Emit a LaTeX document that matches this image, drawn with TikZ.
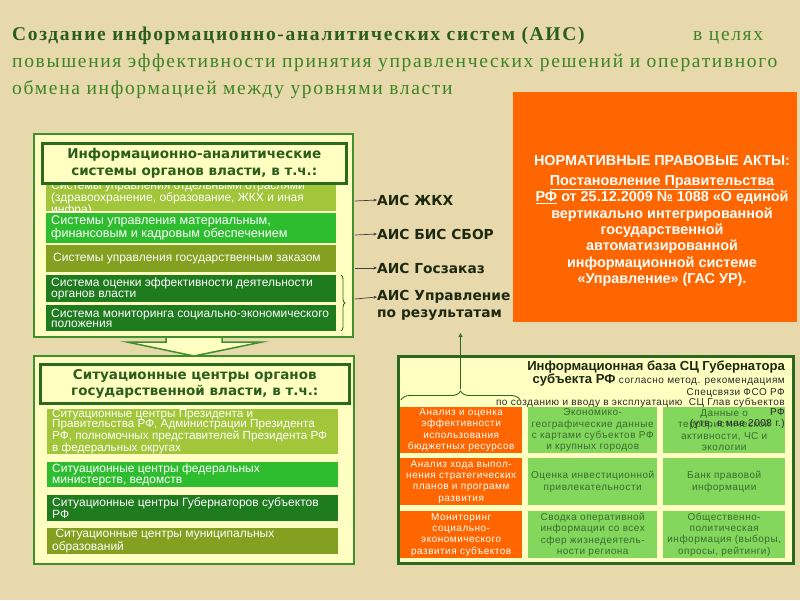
\documentclass[tikz,border=0pt]{standalone}
\usepackage{fontspec}
\setmainfont{Liberation Sans}
\newfontfamily\titleserif[LetterSpace=8.5]{Liberation Serif}
\newfontfamily\spsans[LetterSpace=5]{Liberation Sans}
\newfontfamily\dvsans{DejaVu Sans}
\usetikzlibrary{decorations.pathreplacing,arrows.meta}
\definecolor{bgc}{HTML}{E8D9AC}
\definecolor{tgreen}{HTML}{2B5E1A}
\definecolor{tgreen2}{HTML}{3A8426}
\definecolor{pfill}{HTML}{FFFFC2}
\definecolor{pborder}{HTML}{3F8F2C}
\definecolor{tborder}{HTML}{2B6A1E}
\definecolor{yg}{HTML}{A2C63A}
\definecolor{bright}{HTML}{2EBD2E}
\definecolor{olive}{HTML}{84A020}
\definecolor{dg}{HTML}{1E7B1E}
\definecolor{orng}{HTML}{FF6600}
\definecolor{cellg}{HTML}{83D75C}
\definecolor{celltxt}{HTML}{3A6B30}
\definecolor{labtxt}{HTML}{1C2810}
\definecolor{smalltxt}{HTML}{2A2A2A}
\begin{document}
\begin{tikzpicture}[x=1pt,y=-1pt,
 panel/.style={draw=pborder, line width=2pt, fill=pfill, anchor=north west, inner sep=0pt},
 tbox/.style={draw=tborder, line width=2.5pt, fill=pfill, anchor=north west, inner sep=0pt, align=center, text=tgreen, font=\dvsans\bfseries\fontsize{13.5}{16.5}\selectfont},
 barbox/.style={anchor=north west, inner sep=0pt},
 bartext/.style={anchor=west, inner xsep=5pt, inner ysep=0pt, text=white, align=left, font=\fontsize{12}{10.6}\selectfont},
 lab/.style={anchor=west, inner sep=0pt, text=labtxt, font=\dvsans\bfseries\fontsize{13.8}{16}\selectfont},
 smallarr/.style={draw=black!75, line width=0.7pt, -{Stealth[length=3.5pt,width=3pt]}},
 cellbox/.style={anchor=north west, inner sep=1pt, align=center, font=\spsans\fontsize{10}{11.3}\selectfont},
 ocell/.style={cellbox, fill=orng, text=white},
 gcell/.style={cellbox, fill=cellg, text=celltxt},
 small/.style={inner sep=0pt, text=smalltxt, font=\spsans\fontsize{10}{12}\selectfont},
 brc/.style={draw=tborder, line width=0.9pt},
 ttl/.style={anchor=base west, inner sep=0pt, text=tgreen2, font=\titleserif\fontsize{19.5}{26}\selectfont}
]
\fill[bgc] (0,0) rectangle (800,600);
\useasboundingbox (0,0) rectangle (800,600);

% title
\node[ttl, text=tgreen, font=\titleserif\bfseries\fontsize{19.5}{26}\selectfont] (t1) at (12,40) {Создание информационно-аналитических систем (АИС)};
\node[ttl] (t1b) at (693,40) {в целях};
\node[ttl] (t2) at (12,67) {повышения эффективности принятия управленческих решений и оперативного};
\node[ttl] (t3) at (12,94) {обмена информацией между уровнями власти};

% orange box
\node[fill=orng, anchor=north west, inner sep=0pt, minimum width=284pt, minimum height=230pt] (nra) at (513,92) {};
\node[text=white, align=center, inner sep=0pt, font=\bfseries\fontsize{14.4}{16.4}\selectfont] (nrat) at (662,221) {НОРМАТИВНЫЕ ПРАВОВЫЕ АКТЫ:\\[3.5pt]
\underline{Постановление Правительства}\\
\underline{РФ} от 25.12.2009 № 1088 «О единой\\
вертикально интегрированной\\
государственной\\
автоматизированной\\
информационной системе\\
«Управление» (ГАС УР).};

% big down arrow
\draw[draw=pborder, line width=1.5pt, fill=pfill] (166,326) -- (222,326) -- (222,342) -- (262,342) -- (194,356) -- (127,342) -- (166,342) -- cycle;

% top-left panel
\node[panel, minimum width=319pt, minimum height=203pt] (p1) at (33,133) {};
\node[barbox, fill=yg, minimum width=290pt, minimum height=28pt] (b1) at (46,183) {};
\node[bartext, font=\fontsize{12}{10}\selectfont] (b1t) at ([yshift=-1.5pt]b1.west) {Системы управления отдельными отраслями\\(здравоохранение, образование, ЖКХ и иная\\инфра)};
\node[barbox, fill=bright, minimum width=290pt, minimum height=30pt] (b2) at (46,213) {};
\node[bartext, font=\fontsize{12.6}{11}\selectfont] (b2t) at (b2.west) {Системы управления материальным,\\финансовым и кадровым обеспечением};
\node[barbox, fill=olive, minimum width=290pt, minimum height=27pt] (b3) at (46,245) {};
\node[bartext, inner xsep=7pt] (b3t) at (b3.west) {Системы управления государственным заказом};
\node[barbox, fill=dg, minimum width=290pt, minimum height=27pt] (b4) at (46,275) {};
\node[bartext] (b4t) at (b4.west) {Система оценки эффективности деятельности\\органов власти};
\node[barbox, fill=dg, minimum width=290pt, minimum height=26pt] (b5) at (46,305) {};
\node[bartext] (b5t) at (b5.west) {Система мониторинга социально-экономического\\положения};
\node[tbox, minimum width=304pt, minimum height=40pt] (p1t) at (41,142) {Информационно-аналитические\\системы органов власти, в т.ч.:};
\draw[brc, decorate, decoration={brace, amplitude=4pt}] (341,275) -- (341,331);

% labels
\node[lab] (aj) at (377,200) {АИС ЖКХ};
\node[lab] (ab) at (377,234) {АИС БИС СБОР};
\node[lab] (ag) at (377,268) {АИС Госзаказ};
\node[lab] (au1) at (377,297) {АИС Управление};
\node[lab] (au2) at (377,315) {по результатам};
\coordinate (s1) at (355,201);
\coordinate (s2) at (355,235);
\coordinate (s3) at (355,268);
\coordinate (s4) at (355,299);
\draw[smallarr] (s1) -- (aj.west);
\draw[smallarr] (s2) -- (ab.west);
\draw[smallarr] (s3) -- (ag.west);
\draw[smallarr] (s4) -- (au1.west);

% bottom-left panel
\node[panel, minimum width=320pt, minimum height=208pt] (p2) at (33,355) {};
\node[tbox, minimum width=309pt, minimum height=39pt] (p2t) at (39,363) {Ситуационные центры органов\\государственной власти, в т.ч.:};
\node[barbox, fill=yg, minimum width=291pt, minimum height=45pt] (c1) at (47,409) {};
\node[bartext, font=\fontsize{11.7}{10.6}\selectfont] (c1t) at (c1.west) {Ситуационные центры Президента и\\Правительства РФ, Администрации Президента\\РФ, полномочных представителей Президента РФ\\в федеральных округах};
\node[barbox, fill=bright, minimum width=291pt, minimum height=25pt] (c2) at (47,462) {};
\node[bartext] (c2t) at (c2.west) {Ситуационные центры федеральных\\министерств, ведомств};
\node[barbox, fill=dg, minimum width=291pt, minimum height=26pt] (c3) at (47,495) {};
\node[bartext] (c3t) at (c3.west) {Ситуационные центры Губернаторов субъектов\\РФ};
\node[barbox, fill=olive, minimum width=291pt, minimum height=26pt] (c4) at (47,528) {};
\node[bartext] (c4t) at (c4.west) {\ Ситуационные центры муниципальных\\образований};

% right panel
\node[panel, draw=tborder, line width=2.5pt, minimum width=395pt, minimum height=207pt] (p3) at (397,355) {};
\node[ocell, minimum width=122pt, minimum height=46pt, text width=120pt] (g11) at (400,407) {Анализ и оценка\\эффективности\\использования\\бюджетных ресурсов};
\node[gcell, minimum width=129pt, minimum height=46pt, text width=127pt] (g12) at (528,407) {Экономико-\\географические данные\\с картами субъектов РФ\\и крупных городов};
\node[gcell, minimum width=122pt, minimum height=46pt, text width=120pt] (g13) at (663,407) {Данные о\\террористической\\активности, ЧС и\\экологии};
\node[ocell, minimum width=122pt, minimum height=47pt, text width=120pt] (g21) at (400,458) {Анализ хода выпол-\\нения стратегических\\планов и программ\\развития};
\node[gcell, minimum width=129pt, minimum height=47pt, text width=127pt] (g22) at (528,458) {Оценка инвестиционной\\привлекательности};
\node[gcell, minimum width=122pt, minimum height=47pt, text width=120pt] (g23) at (663,458) {Банк правовой\\информации};
\node[ocell, minimum width=122pt, minimum height=47pt, text width=120pt] (g31) at (400,511) {Мониторинг\\социально-\\экономического\\развития субъектов};
\node[gcell, minimum width=129pt, minimum height=47pt, text width=127pt] (g32) at (528,511) {Сводка оперативной\\информации со всех\\сфер жизнедеятель-\\ности региона};
\node[gcell, minimum width=122pt, minimum height=47pt, text width=120pt] (g33) at (663,511) {Общественно-\\политическая\\информация (выборы,\\опросы, рейтинги)};

% info base title
\node[anchor=base east, inner sep=0pt, text=labtxt, font=\bfseries\fontsize{13.1}{16}\selectfont] (ib1) at (785,370) {Информационная база СЦ Губернатора};
\node[anchor=base east, small] (ib2) at (785,383) {{\rmfamily\bfseries\fontsize{13.1}{16}\selectfont\color{labtxt}субъекта РФ} согласно метод. рекомендациям};
\node[anchor=base east, small] (ib3) at (785,395) {Спецсвязи ФСО РФ};
\node[anchor=base east, small] (ib4) at (785,405) {по созданию и вводу в эксплуатацию \ СЦ Глав субъектов};
\node[anchor=base east, small] (ib5) at (785,415) {РФ};
\node[anchor=base east, small] (ib6) at (785,426) {(утв. в мае 2008 г.)};

% brace and up-line
\draw[brc, decorate, decoration={brace, amplitude=9pt}] (401,400) -- (520,400);
\coordinate (bt) at (460.5,389);
\coordinate (btop) at (460.5,333);
\draw[brc, -{Triangle[open, length=4pt, width=4pt]}] (bt) -- (btop);
\end{tikzpicture}
\end{document}
